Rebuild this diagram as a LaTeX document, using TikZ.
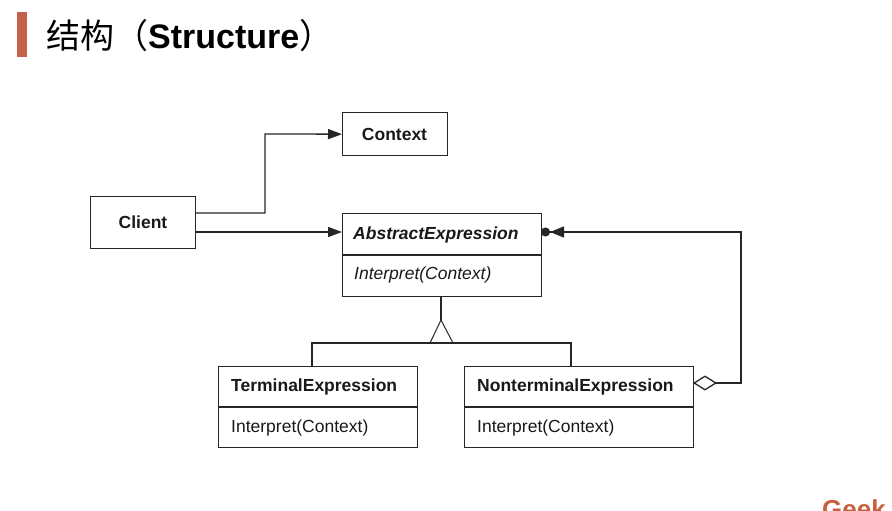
\documentclass[tikz,border=0pt]{standalone}
\usepackage{fontspec}
\setmainfont{Liberation Sans}
\newfontfamily\cjk{Noto Sans CJK SC}
\usetikzlibrary{arrows.meta,calc}
\definecolor{titlered}{HTML}{C4614B}
\definecolor{geek}{HTML}{C8603F}
\colorlet{ln}{black!85}
\begin{document}
\begin{tikzpicture}[x=1pt,y=-1pt,
  boxst/.style={draw=ln,line width=1.3pt,inner sep=0pt,anchor=north west},
  conn/.style={draw=ln,line width=1.3pt},
  lbl/.style={font=\fontsize{17.5}{20}\selectfont\bfseries,inner sep=0pt,text=black!90},
  op/.style={font=\fontsize{17.5}{20}\selectfont,inner sep=0pt,text=black!90},
  filltip/.style={-{Triangle[length=14pt,width=10pt]}},
]
\useasboundingbox (0,0) rectangle (892,511);
% title
\fill[titlered] (17,12) rectangle (27,57);
\node[anchor=base west,inner sep=0pt] (title) at (46,49)
  {\fontsize{34}{40}\selectfont\cjk 结构（\textbf{\fontspec{Liberation Sans}Structure}）};
% Context
\node[boxst,minimum width=105pt,minimum height=43pt] (ctx) at (342,112) {};
\node[lbl] (ctxl) at (394.5,134.5) {Context};
% Client
\node[boxst,minimum width=105pt,minimum height=52pt] (cli) at (90,196) {};
\node[lbl] (clil) at (143,222.5) {Client};
% AbstractExpression
\node[boxst,minimum width=199pt,minimum height=83pt] (abs) at (342,213) {};
\draw[conn] (342,255) -- (541,255);
\node[lbl,font=\fontsize{17.5}{20}\selectfont\bfseries\itshape,anchor=west] (absl) at (353,234.5) {AbstractExpression};
\node[op,font=\fontsize{17.5}{20}\selectfont\itshape,anchor=west] (abso) at (354,275) {Interpret(Context)};
% TerminalExpression
\node[boxst,minimum width=199pt,minimum height=81pt] (term) at (218,366) {};
\draw[conn] (218,407) -- (417,407);
\node[lbl,anchor=west] (terml) at (231,386.5) {TerminalExpression};
\node[op,anchor=west] (termo) at (231,428) {Interpret(Context)};
% NonterminalExpression
\node[boxst,minimum width=229pt,minimum height=81pt] (nont) at (464,366) {};
\draw[conn] (464,407) -- (693,407);
\node[lbl,anchor=west] (nontl) at (477,386.5) {NonterminalExpression};
\node[op,anchor=west] (nonto) at (477,428) {Interpret(Context)};
% connectors
\coordinate (c1) at (195,213);
\coordinate (c2) at (195,232);
\draw[conn,filltip] (c1) -- (265,213) -- (265,134) -- (ctx.west);
\draw[conn,filltip] (c2) -- (abs.west |- c2);
% inheritance
\coordinate (apex) at (441,320);
\draw[conn] (abs.south -| apex) -- (apex);
\draw[draw=ln,line width=1pt] (430,343) -- (apex) -- (453,343);
\draw[conn] (312,366) -- (312,343) -- (571,343) -- (571,366);
% aggregation
\coordinate (nr) at (693,383);
\draw[conn,{Diamond[open,length=24pt,width=15pt,line width=1.3pt]}-{Triangle[length=14pt,width=11pt]Circle[length=9pt]}]
  (nr) -- (741,383) -- (741,232) -- (541,232);
% Geek
\node[anchor=base west,inner sep=0pt,text=geek] (geek) at (822,518) {\fontsize{26}{30}\selectfont\bfseries Geek};
\end{tikzpicture}
\end{document}
